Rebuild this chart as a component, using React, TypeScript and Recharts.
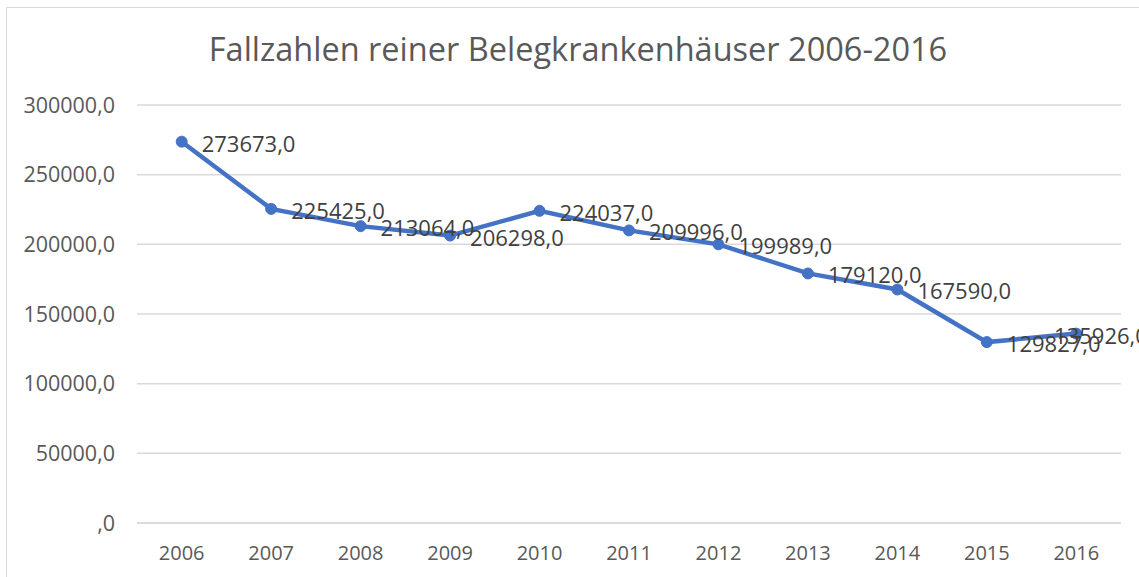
import React from 'react';
import { LineChart, Line, XAxis, YAxis, CartesianGrid, LabelList } from 'recharts';

const years = ['2006', '2007', '2008', '2009', '2010', '2011', '2012', '2013', '2014', '2015', '2016'];
const cases = [273673, 225425, 213064, 206298, 224037, 209996, 199989, 179120, 167590, 129827, 135926];
const yTicks = [0, 50000, 100000, 150000, 200000, 250000, 300000];

const data = years.map((year, i) => ({ year, cases: cases[i] }));

const FONT = '"Open Sans", "Noto Sans", sans-serif';
const LABEL_SIZE = 22;
// right edge of the (partly hidden) chart area, labels get pushed back inside it
const AREA_RIGHT = 1150;

const fmt = (v: number) => (v === 0 ? ',0' : `${v},0`);

const PointLabel = (props: any) => {
	const { x, y, value } = props;
	const txt = fmt(value);
	const w = txt.length * LABEL_SIZE * 0.545;
	let lx = x + 20;
	if (lx + w > AREA_RIGHT) lx = AREA_RIGHT - w;
	return (
		<text x={lx} y={y + 1} dominantBaseline="central" fill="#404040" fontSize={LABEL_SIZE} fontFamily={FONT}>
			{txt}
		</text>
	);
};

const App = () => {
	return (
		<div style={{ position: 'absolute', left: 0, top: 0, width: 1139, height: 577, overflow: 'hidden', background: '#fff' }}>
			<div
				style={{
					position: 'absolute',
					left: 6,
					top: 7,
					width: 1200,
					height: 700,
					border: '1.5px solid #d9d9d9',
				}}
			/>
			<div
				style={{
					position: 'absolute',
					left: 0,
					top: 26,
					width: 1156,
					textAlign: 'center',
					fontFamily: FONT,
					fontSize: 32.5,
					color: '#595959',
				}}
			>
				Fallzahlen reiner Belegkrankenhäuser 2006-2016
			</div>
			<div style={{ position: 'absolute', left: 0, top: 0 }}>
				<LineChart width={1139} height={577} data={data} margin={{ top: 105, right: 18, bottom: 0, left: 0 }}>
					<CartesianGrid vertical={false} stroke="#d9d9d9" strokeWidth={1.5} />
					<XAxis
						dataKey="year"
						height={54}
						padding={{ left: 44.7, right: 44.7 }}
						tickLine={false}
						axisLine={{ stroke: '#d9d9d9', strokeWidth: 1.5 }}
						tickMargin={17}
						tick={{ fill: '#595959', fontSize: 20, fontFamily: FONT }}
					/>
					<YAxis
						width={137}
						domain={[0, 300000]}
						ticks={yTicks}
						tickFormatter={fmt}
						axisLine={false}
						tickLine={false}
						tickMargin={16}
						tick={{ fill: '#595959', fontSize: 21.5, fontFamily: FONT }}
					/>
					<Line
						type="linear"
						dataKey="cases"
						stroke="#4472C4"
						strokeWidth={4.5}
						dot={{ r: 5.5, fill: '#4472C4', stroke: '#4472C4', strokeWidth: 1 }}
						isAnimationActive={false}
					>
						<LabelList dataKey="cases" content={<PointLabel />} />
					</Line>
				</LineChart>
			</div>
		</div>
	);
};

export default App;
